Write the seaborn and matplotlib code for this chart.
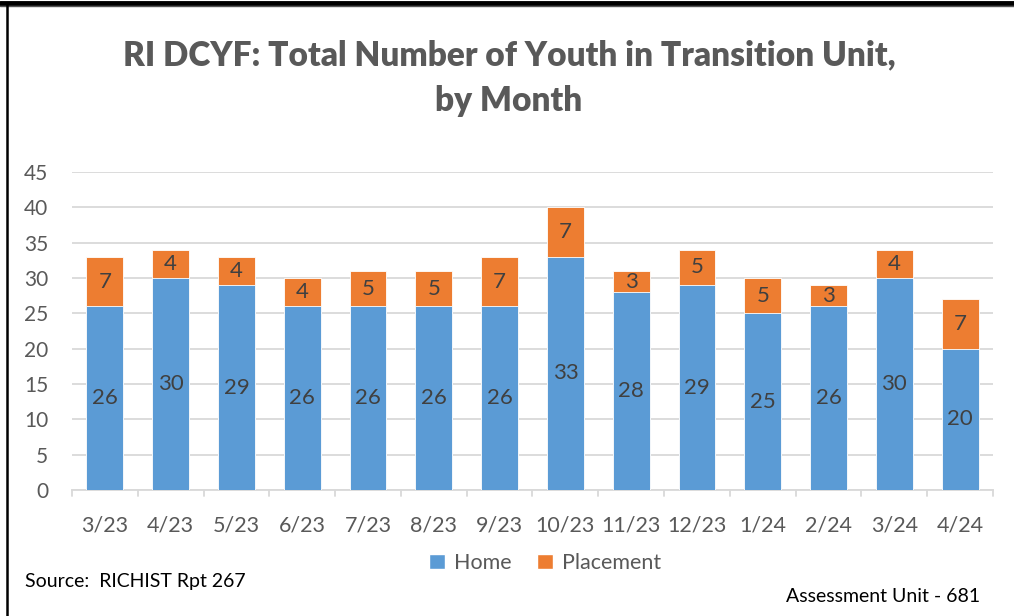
import matplotlib
matplotlib.use("Agg")
import matplotlib.pyplot as plt
import seaborn as sns
import pandas as pd
from matplotlib.patches import Patch
from matplotlib.lines import Line2D

months = ["3/23", "4/23", "5/23", "6/23", "7/23", "8/23", "9/23", "10/23",
          "11/23", "12/23", "1/24", "2/24", "3/24", "4/24"]
home = [26, 30, 29, 26, 26, 26, 26, 33, 28, 29, 25, 26, 30, 20]
placement = [7, 4, 4, 4, 5, 5, 7, 7, 3, 5, 5, 3, 4, 7]
yticks = [0, 5, 10, 15, 20, 25, 30, 35, 40, 45]

BLUE = "#5B9BD5"
ORANGE = "#ED7D31"
GRAY_TXT = "#595959"
LBL = "#404040"

sns.set_theme(style="white")
plt.rcParams["font.family"] = ["Lato", "DejaVu Sans"]

df = pd.DataFrame({"month": months, "home": home, "placement": placement})
df["total"] = df["home"] + df["placement"]

fig = plt.figure(figsize=(10.14, 6.16), dpi=100)
ax = fig.add_axes([72 / 1014, 1 - 490 / 616, 921 / 1014, 318 / 616])

sns.barplot(data=df, x="month", y="total", color=ORANGE, width=0.56,
            saturation=1, ax=ax, zorder=3)
sns.barplot(data=df, x="month", y="home", color=BLUE, width=0.56,
            saturation=1, ax=ax, zorder=4)
for p in ax.patches:
    p.set_edgecolor("white")
    p.set_linewidth(0.6)

for i, (h, pl) in enumerate(zip(home, placement)):
    ax.text(i, h / 2, str(h), ha="center", va="center", fontsize=16,
            color=LBL, zorder=5)
    ax.text(i, h + pl / 2, str(pl), ha="center", va="center", fontsize=16,
            color=LBL, zorder=5)

ax.set_ylim(0, 45)
ax.set_xlim(-0.5, len(months) - 0.5)
ax.set_yticks(yticks)
ax.yaxis.grid(True, color="#D9D9D9", linewidth=1.3, zorder=0)
ax.set_axisbelow(True)
for s in ["top", "right", "left"]:
    ax.spines[s].set_visible(False)
ax.spines["bottom"].set_color("#D9D9D9")
ax.spines["bottom"].set_linewidth(1.3)
ax.set_xlabel("")
ax.set_ylabel("")
ax.tick_params(axis="y", length=0, labelsize=15, labelcolor=GRAY_TXT, pad=17)
ax.tick_params(axis="x", length=0, labelsize=15.5, labelcolor=GRAY_TXT, pad=18)
# category-boundary tick marks
for b in range(len(months) + 1):
    ax.add_line(Line2D([b - 0.5, b - 0.5], [0, -0.9], color="#D9D9D9",
                       linewidth=1.3, clip_on=False))

fig.text(509 / 1014, 1 - 78 / 616,
         "RI DCYF: Total Number of Youth in Transition Unit,\nby Month",
         ha="center", va="center", fontsize=24, fontweight="heavy",
         color=GRAY_TXT, linespacing=1.55)

handles = [Patch(facecolor=BLUE, label="Home"),
           Patch(facecolor=ORANGE, label="Placement")]
fig.legend(handles=handles, loc="center", bbox_to_anchor=(545 / 1014, 1 - 563 / 616),
           ncol=2, frameon=False, fontsize=15.5, labelcolor=GRAY_TXT,
           handlelength=0.75, handleheight=0.75, handletextpad=0.4,
           columnspacing=1.2)

fig.text(25 / 1014, 1 - 582 / 616, "Source:  RICHIST Rpt 267", ha="left",
         va="center", fontsize=14, color="black")
fig.text(980 / 1014, 1 - 596 / 616, "Assessment Unit - 681", ha="right",
         va="center", fontsize=14, color="black")

# frame lines (top double line, left line)
fig.add_artist(Line2D([0, 1], [1 - 2.5 / 616, 1 - 2.5 / 616], color="black",
                      linewidth=3.5, transform=fig.transFigure))
fig.add_artist(Line2D([0, 1], [1 - 5.5 / 616, 1 - 5.5 / 616], color="#555555",
                      linewidth=1.0, transform=fig.transFigure))
fig.add_artist(Line2D([6.5 / 1014, 6.5 / 1014], [0, 1 - 4 / 616], color="black",
                      linewidth=1.8, transform=fig.transFigure))

fig.savefig("out.png", dpi=100)
